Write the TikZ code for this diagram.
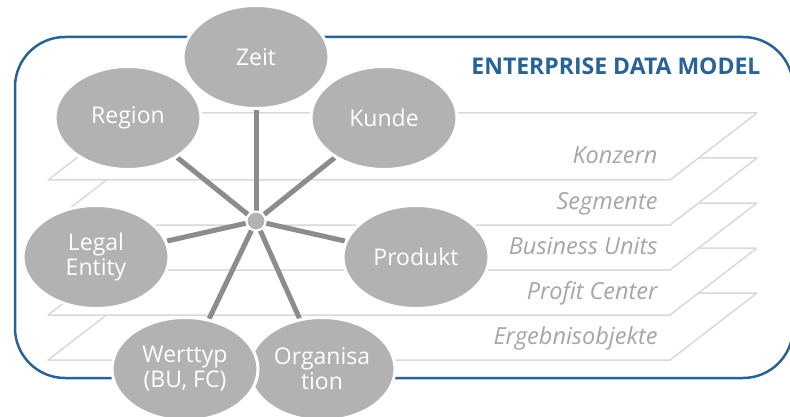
\documentclass[tikz,border=0pt]{standalone}
\usepackage{fontspec}
\setmainfont{Open Sans}
\usepackage{tikz}
\usetikzlibrary{shapes,positioning}
\definecolor{edmblue}{RGB}{41,98,150}
\definecolor{bubblegray}{RGB}{178,178,178}
\definecolor{spokegray}{RGB}{140,140,140}
\definecolor{layergray}{RGB}{217,217,217}
\definecolor{labelgray}{RGB}{166,166,166}
\pgfdeclarelayer{levels}
\pgfdeclarelayer{spokes}
\pgfsetlayers{levels,spokes,main}
\tikzset{
  dim/.style={ellipse,fill=bubblegray,draw=white,line width=3pt,
    minimum width=146pt,minimum height=103pt,inner sep=0pt,
    text=white,align=center,font=\fontsize{23}{25}\selectfont},
  spoke/.style={draw=spokegray,line width=5pt},
  layer/.style={draw=layergray,line width=1.5pt,fill=white,line join=round},
  layername/.style={anchor=base east,text=labelgray,
    font=\fontsize{23.5}{26}\selectfont\itshape}}

\begin{document}
\begin{tikzpicture}[x=1pt,y=-1pt]
    \useasboundingbox (0,0) rectangle (790,417);
    \begin{pgfonlayer}{levels}
    % frame
    \draw[edmblue,line width=2.5pt,rounded corners=50pt] (15,37) rectangle (793,378);
    % levels, lowest first
    \foreach \t/\lbl [count=\i] in {293/Ergebnisobjekte,248/Profit Center,
        203/Business Units,158/Segmente,113/Konzern}{
      \draw[layer] (48,\t+67) -- (670,\t+67) -- (757,\t) -- (135,\t) -- cycle;
      \node (lvl\i) [layername] at (661,\t+51) {\lbl};
    }
    \end{pgfonlayer}
    \node (title) [anchor=base east,text=edmblue,font=\fontsize{23}{26}\selectfont\bfseries]
      at (764,75) {ENTERPRISE DATA MODEL};

    % hub and dimensions
    \node (hub) [circle,fill=bubblegray,draw=white,line width=2pt,
      minimum size=19pt,inner sep=0pt] at (256,221) {};
    \node (zeit) [dim] at (256,57) {Zeit};
    \node (region) [dim] at (128,118) {Region};
    \node (kunde) [dim] at (384,118) {Kunde};
    \node (legal) [dim] at (96,257) {Legal\\Entity};
    \node (produkt) [dim] at (416,257) {Produkt};
    \node (orga) [dim] at (322,369) {Organisa\\tion};
    \node (werttyp) [dim] at (185,369) {Werttyp\\(BU, FC)};

    \begin{pgfonlayer}{spokes}
    \foreach \d in {zeit,region,kunde,legal,produkt,orga,werttyp}
      \path[spoke] (hub) -- (\d);
    \end{pgfonlayer}
\end{tikzpicture}
\end{document}
